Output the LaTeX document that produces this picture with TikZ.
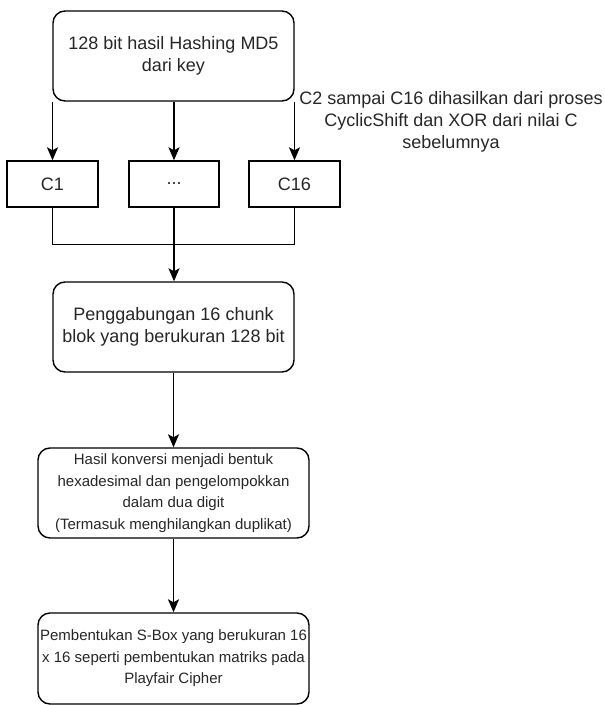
\documentclass[tikz,border=0pt]{standalone}
\usepackage{fontspec}
\setmainfont{Liberation Sans}
\usetikzlibrary{arrows.meta}

\tikzset{
  big/.style={font=\fontsize{18}{22}\selectfont, text=black!85},
  small/.style={font=\fontsize{15}{21.5}\selectfont, text=black!85},
  roundbox/.style={draw, line width=1.4pt, rounded corners=12pt, align=center, inner sep=0pt},
  chunk/.style={draw, line width=1.4pt, align=center, inner sep=0pt,
                minimum width=91pt, minimum height=46pt, big},
  flow/.style={line width=1.5pt, -{Stealth[length=13pt, width=11pt, inset=3pt]}},
  wire/.style={line width=1.5pt}
}

\begin{document}
\begin{tikzpicture}[x=1pt, y=-1pt]
  \useasboundingbox (0,0) rectangle (605,705);

  % source block
  \node[roundbox, big, minimum width=241pt, minimum height=90pt] (top) at (173.5,56)
    {128 bit hasil Hashing MD5\\dari key};

  % the sixteen chunks
  \node[chunk] (c1)    at (52.5,184) {C1};
  \node[chunk, minimum width=90pt] (cdots) at (174,184) {...};
  \node[chunk] (c16)   at (294.5,184) {C16};

  % note on how the chunks are derived
  \node[big, align=center] (note) at (451,122)
    {C2 sampai C16 dihasilkan dari proses\\CyclicShift dan XOR dari nilai C\\sebelumnya};

  % merge block
  \node[roundbox, big, minimum width=241pt, minimum height=90pt] (merge) at (173.5,327)
    {Penggabungan 16 chunk\\blok yang berukuran 128 bit};

  % hexadecimal conversion
  \node[roundbox, small, minimum width=271pt, minimum height=90pt] (hex) at (173.5,493)
    {Hasil konversi menjadi bentuk\\hexadesimal dan pengelompokkan\\dalam dua digit\\(Termasuk menghilangkan duplikat)};

  % S-Box construction
  \node[roundbox, small, minimum width=271pt, minimum height=91pt] (sbox) at (173.5,658.5)
    {Pembentukan S-Box yang berukuran 16\\x 16 seperti pembentukan matriks pada\\Playfair Cipher};

  % split into chunks
  \draw[flow] (c1.north |- top.south) -- (c1.north);
  \draw[flow] (cdots.north |- top.south) -- (cdots.north);
  \draw[flow] (c16.north |- top.south) -- (c16.north);

  % collect chunks
  \coordinate (joinL) at ([yshift=-37pt]c1.south);
  \coordinate (joinR) at ([yshift=-37pt]c16.south);
  \draw[wire] (c1.south) -- (joinL) -- (joinR) -- (c16.south);
  \draw[flow] (cdots.south) -- (cdots.south |- merge.north);

  % downstream steps
  \draw[flow] (merge.south) -- (hex.north);
  \draw[flow] (hex.south) -- (sbox.north);
\end{tikzpicture}
\end{document}
